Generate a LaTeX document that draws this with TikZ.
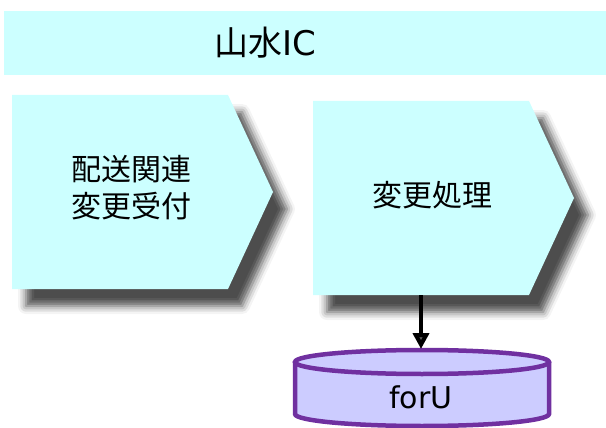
\documentclass[tikz,border=0pt]{standalone}
\usepackage{fontspec}
\setmainfont{DejaVu Sans}
\newfontfamily\cjk{Noto Sans CJK JP}
\usepackage{tikz}
\usetikzlibrary{arrows.meta,shadows.blur}
\definecolor{paleCyan}{HTML}{CCFFFF}
\definecolor{dbPurple}{HTML}{7030A0}
\definecolor{dbFill}{HTML}{CCCCFF}

\begin{document}
\begin{tikzpicture}[x=1pt,y=-1pt,
  chevron/.style={fill=paleCyan, blur shadow={shadow xshift=14pt, shadow yshift=-17pt,
    shadow blur radius=8pt, shadow opacity=70}},
  lbl/.style={font=\fontsize{30}{37}\selectfont\cjk, align=center, inner sep=0pt},
  dbline/.style={draw=dbPurple, line width=4.5pt},
  flow/.style={line width=4pt, -{Triangle[width=16pt,length=16pt]}}]
\useasboundingbox (0,0) rectangle (606,428);
% banner
\fill[paleCyan] (4,11) rectangle (606,75);
\node (title) at (265,43) [font=\fontsize{34}{40}\selectfont]{{\cjk 山水}IC};
% process steps
\foreach \x/\y/\n in {12/95/recv,313/101/proc} {
\path[chevron] (\x,\y) -- ++(216,0) -- ++(45,97) -- ++(-45,97) -- ++(-216,0) -- cycle;
\coordinate (\n-s) at (\x+108,\y+194);}
\node (recv) at (131,188) [lbl]{配送関連\\変更受付};
\node (proc) at (432,195) [lbl]{変更処理};
% database
\fill[dbFill] (295,362) -- (295,414) arc[start angle=180,end angle=0,x radius=127,y radius=12] -- (549,362) -- cycle;
\draw[dbline] (295,362) -- (295,414) arc[start angle=180,end angle=0,x radius=127,y radius=12] -- (549,362);
\draw[dbline, fill=dbFill] (422,362) ellipse[x radius=127,y radius=12];
\coordinate (db-top) at (421,349);
\node (db) at (421,397) [font=\fontsize{30}{36}\selectfont, inner sep=0pt]{forU};
\draw[flow] (proc-s) -- (db-top);
\end{tikzpicture}
\end{document}
